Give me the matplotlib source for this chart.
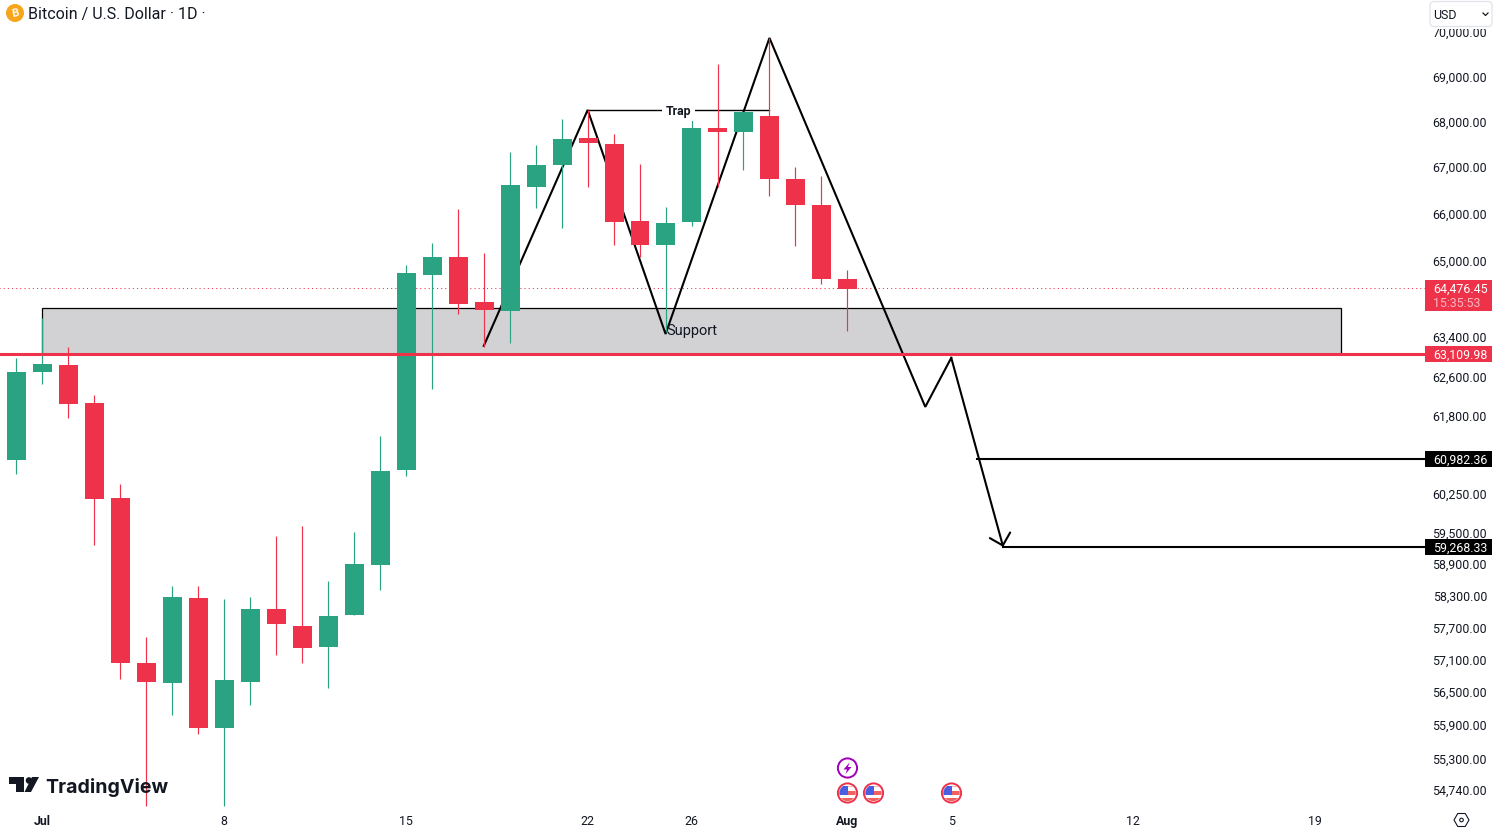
import matplotlib
matplotlib.use('Agg')

import matplotlib.pyplot as plt
import matplotlib.transforms as mtransforms
from matplotlib.patches import Circle, Polygon, Rectangle, RegularPolygon, FancyBboxPatch

WIDTH, HEIGHT = 1493, 830

# candles, day 0 is Jul 1
days = list(range(-2, 32))
opens = [60354, 60926, 62691, 62834, 62063, 60178, 57043, 56672, 58258, 55851, 56690,
         58050, 57730, 57340, 57937, 58884, 60728, 64694, 65074, 64130, 63943, 66567,
         67046, 67634, 67503, 65838, 65328, 65817, 67854, 67765, 68119, 66740, 66180, 64609]
closes = [60926, 62691, 62855, 62043, 60159, 57043, 56690, 58277, 55851, 56727, 58050,
          57768, 57321, 57918, 58905, 60708, 64736, 65074, 64088, 63964, 66610, 67046,
          67612, 67525, 65817, 65328, 65795, 67854, 67765, 68208, 66740, 66180, 64609, 64400]
highs = [61050, 62977, 63798, 63201, 62224, 60451, 57524, 58484, 58484, 58239, 58277,
         59440, 59634, 58578, 59517, 61401, 64905, 65370, 66095, 65159, 67329, 67481,
         68053, 68252, 67721, 67067, 66137, 68164, 69280, 68208, 69865, 67002, 66806, 64799]
lows = [60200, 60648, 62445, 61761, 59267, 56746, 54455, 56089, 55742, 54455, 56271,
        57191, 57043, 56581, 57937, 58409, 60609, 62344, 63881, 63201, 63283, 66116,
        65688, 66567, 65328, 65074, 63507, 65731, 66567, 66937, 66374, 65306, 64504, 63528]

# drawn pattern on top of the candles
path_days = [17, 21, 24, 28, 34, 35]
path_prices = [63222, 68252, 63466, 69865, 61982, 62977]
arrow_day, arrow_price = 37, 59229
trap_days = [21, 28]
trap_price = 68252
zone_days = [0, 50]
zone_prices = [63058, 64005]

# price levels, positions as seen on the chart and labels as printed
last_price = 64421
last_label = '64,476.45'
countdown_label = '15:35:53'
support_price = 63058
support_label = '63,109.98'
target_prices = [60945, 59229]
target_days = [36, 37]
target_labels = ['60,982.36', '59,268.33']

y_ticks = [70000, 69000, 68000, 67000, 66000, 65000, 63400, 62600, 61800, 60250, 59500,
           58900, 58300, 57700, 57100, 56500, 55900, 55300, 54740]
y_tick_labels = [f'{v:,.2f}' for v in y_ticks]
x_ticks = [0, 7, 14, 21, 25, 31, 35, 42, 49]
x_tick_labels = ['Jul', '8', '15', '22', '26', 'Aug', '5', '12', '19']

GREEN = '#29A382'
RED = '#EE3249'
INK = '#131722'
BLACK = '#000000'
LABEL_SIZE = 8.9

plt.rcParams['font.family'] = ['Roboto', 'DejaVu Sans']

fig = plt.figure(figsize=(WIDTH / 100, HEIGHT / 100), dpi=100)
ax = fig.add_axes([0, 0, 1, 1])
ax.set_yscale('log')
ax.set_xlim(-42.3 / 25.97, (WIDTH - 42.3) / 25.97)
ax.set_ylim(54030, 70731)
for spine in ax.spines.values():
    spine.set_visible(False)

# axes fill the whole figure, so the labels sit inside with a negative pad
ax.yaxis.tick_right()
ax.set_yticks(y_ticks)
ax.set_yticklabels(y_tick_labels, fontsize=LABEL_SIZE, color=INK, ha='right')
ax.minorticks_off()
ax.tick_params(axis='y', which='both', length=0, pad=-4.3)
ax.set_xticks(x_ticks)
ax.set_xticklabels(x_tick_labels, fontsize=LABEL_SIZE, color=INK, va='bottom')
ax.tick_params(axis='x', which='both', length=0, pad=-1.5)
for t in ax.get_xticklabels():
    if t.get_text() in ('Jul', 'Aug'):
        t.set_fontweight('bold')

# zone and levels below the candles
ax.add_patch(Rectangle((zone_days[0], zone_prices[0]), zone_days[1] - zone_days[0],
                       zone_prices[1] - zone_prices[0], facecolor='#D2D2D4',
                       edgecolor=BLACK, linewidth=0.9, zorder=1))
ax.plot([-2, 53.3], [last_price, last_price], color=RED, linewidth=0.75,
        linestyle=(0, (1, 3)), zorder=1.5)
ax.plot(path_days, path_prices, color=BLACK, linewidth=1.5, zorder=2,
        solid_joinstyle='miter')
ax.annotate('', xy=(arrow_day, arrow_price), xytext=(path_days[-1], path_prices[-1]),
            arrowprops=dict(arrowstyle='->,head_length=0.76,head_width=0.76', color=BLACK,
                            linewidth=1.5, shrinkA=0, shrinkB=0, mutation_scale=10), zorder=2)
ax.plot(trap_days, [trap_price, trap_price], color=BLACK, linewidth=1.0, zorder=2)
for d, p in zip(target_days, target_prices):
    ax.plot([d, 53.3], [p, p], color=BLACK, linewidth=1.5, zorder=2)

# candles, bodies nudged a little so they snap to the same pixels as the reference
colors = [GREEN if c >= o else RED for o, c in zip(opens, closes)]
ax.vlines(days, lows, highs, colors=colors, linewidth=0.85, zorder=3)
bottoms = [min(o, c) for o, c in zip(opens, closes)]
sizes = [abs(c - o) for o, c in zip(opens, closes)]
ax.bar([d + 0.015 for d in days], sizes, bottom=bottoms, width=0.73, color=colors, linewidth=0,
       zorder=3.1)

ax.plot([-2, 53.3], [support_price, support_price], color=RED, linewidth=2.2, zorder=4)

ax.text(sum(trap_days) / 2, trap_price, 'Trap', fontsize=LABEL_SIZE, fontweight='bold', color=INK,
        ha='center', va='center_baseline', zorder=5,
        bbox=dict(facecolor='white', edgecolor='none', pad=2.5))
ax.text(24.03, 63527, 'Support', fontsize=10.5, color=INK, ha='left', va='center', zorder=5)

pixels = mtransforms.IdentityTransform()


def py(y):
    return HEIGHT - y


def add_px(artist, zorder=10):
    artist.set_transform(pixels)
    artist.set_clip_on(False)
    artist.set_zorder(zorder)
    ax.add_artist(artist)
    return artist


def text_px(x, y, s, **kwargs):
    return ax.text(x, py(y), s, transform=pixels, zorder=kwargs.pop('zorder', 11), clip_on=False,
                   **kwargs)


def price_tag(price, label, color):
    y = ax.transData.transform((0, price))[1]
    add_px(Rectangle((1425, y - 8), 67, 16, facecolor=color, edgecolor='none'))
    ax.text(1433.5, y, label, transform=pixels, color='white', fontsize=LABEL_SIZE, ha='left',
            va='center_baseline', zorder=11)


fig.canvas.draw()

# price tags on the right
y_last = ax.transData.transform((0, last_price))[1]
add_px(Rectangle((1425, y_last - 23), 67, 31, facecolor=RED, edgecolor='none'))
ax.text(1433.5, y_last, last_label, transform=pixels, color='white', fontsize=LABEL_SIZE,
        va='center_baseline', zorder=11)
ax.text(1433.5, y_last - 14, countdown_label, transform=pixels, color='#F9B8C1', fontsize=LABEL_SIZE,
        va='center_baseline', zorder=11)
price_tag(support_price, support_label, RED)
for p, label in zip(target_prices, target_labels):
    price_tag(p, label, BLACK)

# header
add_px(Circle((15, py(13)), 9, facecolor='#F7A61B', edgecolor='none'))
text_px(15, 13, 'B', color='white', fontsize=8, fontweight='bold', ha='center', va='center',
        rotation=10)
text_px(28, 13, 'Bitcoin / U.S. Dollar · 1D ·', color=INK, fontsize=11.5, ha='left',
        va='center_baseline')

# currency select, it hides the top of the first price label
add_px(Rectangle((1425, py(29)), 68, 29, facecolor='white', edgecolor='none'), 9)
add_px(FancyBboxPatch((1430, py(26.5)), 62, 25, boxstyle='round,pad=0,rounding_size=4',
                      facecolor='white', edgecolor='#E0E3EB', linewidth=0.9))
text_px(1433, 14, 'USD', color=INK, fontsize=LABEL_SIZE, ha='left', va='center_baseline')
chevron = plt.Line2D([1483, 1485.5, 1488], [py(13), py(15.5), py(13)], color=INK, linewidth=0.9)
add_px(chevron, 11)

# logo
add_px(Polygon([(9, py(777)), (24, py(777)), (24, py(792)), (16, py(792)), (16, py(784)), (9, py(784))],
               facecolor=INK, edgecolor='none'), 6)
add_px(Circle((29, py(780.5)), 3.3, facecolor=INK, edgecolor='none'), 6)
add_px(Polygon([(32, py(777)), (39, py(777)), (31, py(792)), (24.5, py(792))],
               facecolor=INK, edgecolor='none'), 6)
text_px(45.5, 785, 'TradingView', color=INK, fontsize=14.1, fontfamily=['Inter', 'DejaVu Sans'],
        fontweight='bold', ha='left', va='center_baseline', zorder=6)

# event markers under the candles
add_px(Circle((847.5, py(768)), 9.6, facecolor='white', edgecolor='#A000BE', linewidth=1.4))
add_px(Polygon([(849.5, py(762.5)), (843.5, py(769.5)), (847, py(769.5)), (845.5, py(774)),
                (851.5, py(767)), (848, py(767))], facecolor='#A000BE', edgecolor='none'), 11)
for x in (847.5, 873.5, 951.5):
    y = 793
    clip = Circle((x, py(y)), 8.2, transform=pixels)
    parts = [Rectangle((x - 8.5, py(y + 8.5)), 17, 17, facecolor='white', edgecolor='none'),
             Rectangle((x, py(y + 2)), 8.5, 4.5, facecolor='#F0625F', edgecolor='none'),
             Rectangle((x, py(y - 6)), 8.5, 1.5, facecolor='#F9B8B5', edgecolor='none'),
             Rectangle((x - 8.5, py(y + 8)), 17, 3.0, facecolor='#F0625F', edgecolor='none'),
             Rectangle((x - 8.5, py(y + 2)), 9.2, 9.5, facecolor='#4A5FE0', edgecolor='none')]
    for part in parts:
        add_px(part, 10)
        part.set_clip_path(clip)
        part.set_clip_on(True)
    add_px(Circle((x, py(y)), 9.6, facecolor='none', edgecolor='#EE3249', linewidth=1.4), 11)

# settings icon
add_px(RegularPolygon((1461.5, py(820)), 6, radius=7.5, orientation=0.5236, facecolor='white',
                      edgecolor=INK, linewidth=0.8))
add_px(Circle((1461.5, py(820)), 1.8, facecolor='white', edgecolor=INK, linewidth=0.8), 11)

plt.savefig('out.png', dpi=100)
plt.close()
